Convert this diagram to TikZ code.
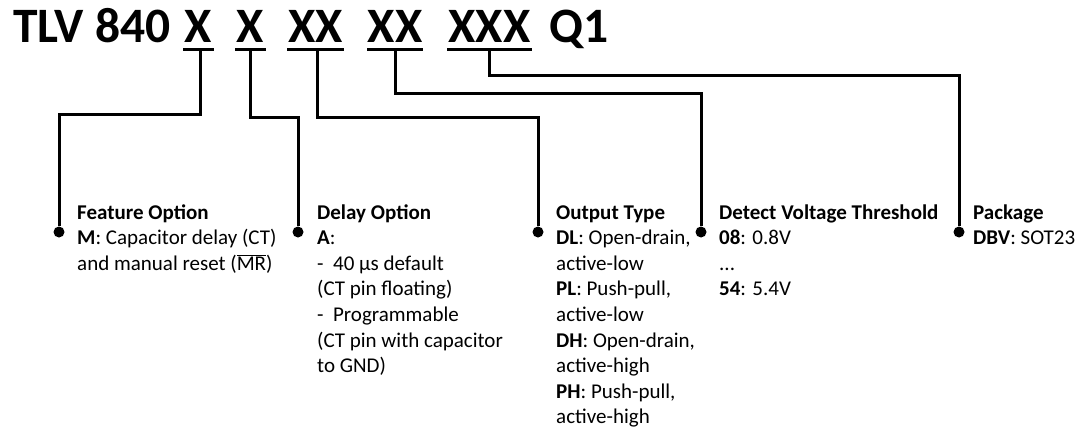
\documentclass[tikz,border=0pt]{standalone}
\usepackage{fontspec}
\setmainfont{Carlito}
\begin{document}
\begin{tikzpicture}[x=1pt,y=1pt,
  ttl/.style={inner sep=0pt,font=\fontsize{49.5}{52}\selectfont\bfseries},
  txt/.style={inner sep=0pt,anchor=base west,font=\fontsize{21}{25.6}\selectfont},
  uline/.style={line width=3pt},
  conn/.style={line width=3pt},
  dot/.style={circle,fill=black,inner sep=0pt,minimum size=11pt}]
\useasboundingbox (0,0) rectangle (1080,-431);
% title
\node[ttl,anchor=base west] (t0) at (13,-42) {TLV 840};
\node[ttl,anchor=base] (x1) at (198.5,-42) {X};
\node[ttl,anchor=base] (x2) at (250.5,-42) {X};
\node[ttl,anchor=base] (x3) at (315.5,-42) {XX};
\node[ttl,anchor=base] (x4) at (395,-42) {XX};
\node[ttl,anchor=base] (x5) at (489.5,-42) {XXX};
\node[ttl,anchor=base west] (q1) at (549,-42) {Q1};
% underlines
\coordinate (u1a) at (183,-49); \coordinate (u1b) at (214,-49);
\coordinate (u2a) at (235,-49); \coordinate (u2b) at (266,-49);
\coordinate (u3a) at (287,-49); \coordinate (u3b) at (344,-49);
\coordinate (u4a) at (367,-49); \coordinate (u4b) at (423,-49);
\coordinate (u5a) at (447,-49); \coordinate (u5b) at (532,-49);
\draw[uline] (u1a) -- (u1b);
\draw[uline] (u2a) -- (u2b);
\draw[uline] (u3a) -- (u3b);
\draw[uline] (u4a) -- (u4b);
\draw[uline] (u5a) -- (u5b);
\coordinate (c1) at (200,-49);
\coordinate (c2) at (250,-49);
\coordinate (c3) at (317,-49);
\coordinate (c4) at (395,-49);
\coordinate (c5) at (489,-49);
% dots
\node[dot] (d1) at (59,-232) {};
\node[dot] (d2) at (298,-232) {};
\node[dot] (d3) at (538,-232) {};
\node[dot] (d4) at (701,-232) {};
\node[dot] (d5) at (959,-232) {};
% connectors
\draw[conn] (c1) -- ++(0,-65) -| (d1);
\draw[conn] (c2) -- ++(0,-68) -| (d2);
\draw[conn] (c3) -- ++(0,-68) -| (d3);
\draw[conn] (c4) -- ++(0,-44) -| (d4);
\draw[conn] (c5) -- ++(0,-26) -| (d5);
% texts
\node[txt] (f) at (77,-219) {\vtop{%
  \hbox{\textbf{Feature Option}}%
  \hbox{\textbf{M}: Capacitor delay (CT)}%
  \hbox{and manual reset ($\overline{\mbox{MR}}$)}}};
\node[txt] (dl) at (317,-219) {\vtop{%
  \hbox{\textbf{Delay Option}}%
  \hbox{\textbf{A}:}%
  \hbox{-\ \ 40 µs default}%
  \hbox{(CT pin floating)}%
  \hbox{-\ \ Programmable}%
  \hbox{(CT pin with capacitor}%
  \hbox{to GND)}}};
\node[txt] (o) at (556,-219) {\vtop{%
  \hbox{\textbf{Output Type}}%
  \hbox{\textbf{DL}: Open-drain,}%
  \hbox{active-low}%
  \hbox{\textbf{PL}: Push-pull,}%
  \hbox{active-low}%
  \hbox{\textbf{DH}: Open-drain,}%
  \hbox{active-high}%
  \hbox{\textbf{PH}: Push-pull,}%
  \hbox{active-high}}};
\node[txt] (v) at (719,-219) {\vtop{%
  \hbox{\textbf{Detect Voltage Threshold}}%
  \hbox{\textbf{08}: 0.8V}%
  \hbox{...}%
  \hbox{\textbf{54}: 5.4V}}};
\node[txt] (p) at (973,-219) {\vtop{%
  \hbox{\textbf{Package}}%
  \hbox{\textbf{DBV}: SOT23}}};
\end{tikzpicture}
\end{document}
